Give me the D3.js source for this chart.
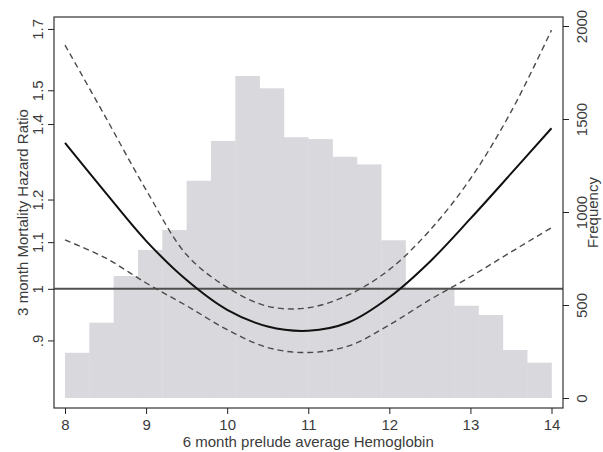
<!DOCTYPE html>
<html>
<head>
<meta charset="utf-8">
<script src="https://cdn.jsdelivr.net/npm/d3@7"></script>
<style>
  html, body { margin: 0; padding: 0; background: #fff; }
  svg { display: block; font-family: "Liberation Sans", Arial, sans-serif; }
  .axis text { fill: #3c3c3c; font-size: 15px; }
  .axis path, .axis line { stroke: #222; }
</style>
</head>
<body>
<svg width="603" height="452"></svg>
<script>
// Histogram of hemoglobin (bin start, width 0.3) and counts
const binStarts = [8.0, 8.3, 8.6, 8.9, 9.2, 9.5, 9.8, 10.1, 10.4, 10.7,
  11.0, 11.3, 11.6, 11.9, 12.2, 12.5, 12.8, 13.1, 13.4, 13.7];
const binWidth = 0.3;
const binCounts = [243, 405, 656, 796, 903, 1168, 1382, 1731, 1665, 1402,
  1392, 1297, 1256, 848, 593, 593, 496, 446, 258, 190];

// Hazard ratio curve and confidence band
const hbGrid = [8.0, 8.5, 9.0, 9.5, 10.0, 10.5, 11.0, 11.5, 12.0, 12.5, 13.0, 13.5, 14.0];
const hrEstimate = [1.347, 1.217, 1.103, 1.018, 0.958, 0.926, 0.918, 0.934, 0.983, 1.057, 1.154, 1.265, 1.388];
const hrUpper = [1.645, 1.42, 1.224, 1.072, 1.003, 0.965, 0.962, 0.988, 1.04, 1.127, 1.252, 1.435, 1.696];
const hrLower = [1.105, 1.065, 1.012, 0.966, 0.92, 0.887, 0.878, 0.89, 0.929, 0.978, 1.025, 1.078, 1.133];

// Tick values
const xTicks = [8, 9, 10, 11, 12, 13, 14];
const hrTicks = [0.9, 1, 1.1, 1.2, 1.4, 1.5, 1.7];
const hrTickLabels = ['.9', '1', '1.1', '1.2', '1.4', '1.5', '1.7'];
const freqTicks = [0, 500, 1000, 1500, 2000];

const svg = d3.select('svg');
const frame = { left: 54, right: 563, top: 17, bottom: 408 };

const xScale = d3.scaleLinear().domain([8, 14]).range([65, 551.5]);
const yHr = d3.scaleLog().domain([0.784, 1.742]).range([frame.bottom, frame.top]);
const yFreq = d3.scaleLinear().domain([0, 2000]).range([398, 26]);

// Histogram bars
svg.append('g')
  .selectAll('rect')
  .data(binStarts)
  .enter()
  .append('rect')
  .attr('x', (d) => xScale(d))
  .attr('width', (d) => xScale(d + binWidth) - xScale(d) + 0.3)
  .attr('y', (d, i) => yFreq(binCounts[i]))
  .attr('height', (d, i) => yFreq(0) - yFreq(binCounts[i]))
  .attr('fill', '#d9d8dc');

// Reference line at HR = 1
svg.append('line')
  .attr('x1', frame.left)
  .attr('x2', frame.right)
  .attr('y1', yHr(1))
  .attr('y2', yHr(1))
  .attr('stroke', '#505050')
  .attr('stroke-width', 2);

// Curves
const line = (vals) => d3.line()
  .x((d) => xScale(d))
  .y((d, i) => yHr(vals[i]))
  .curve(d3.curveCatmullRom.alpha(0.5))(hbGrid);

svg.append('path')
  .attr('d', line(hrUpper))
  .attr('fill', 'none')
  .attr('stroke', '#4a4a4a')
  .attr('stroke-width', 1.4)
  .attr('stroke-dasharray', '6,4');

svg.append('path')
  .attr('d', line(hrLower))
  .attr('fill', 'none')
  .attr('stroke', '#4a4a4a')
  .attr('stroke-width', 1.4)
  .attr('stroke-dasharray', '6,4');

svg.append('path')
  .attr('d', line(hrEstimate))
  .attr('fill', 'none')
  .attr('stroke', '#111')
  .attr('stroke-width', 2);

// Plot frame
svg.append('rect')
  .attr('x', frame.left)
  .attr('y', frame.top)
  .attr('width', frame.right - frame.left)
  .attr('height', frame.bottom - frame.top)
  .attr('fill', 'none')
  .attr('stroke', '#333')
  .attr('stroke-width', 1.2);

// Axes
const xAxis = svg.append('g')
  .attr('class', 'axis')
  .attr('transform', `translate(0, ${frame.bottom})`)
  .call(d3.axisBottom(xScale).tickValues(xTicks).tickFormat(d3.format('d'))
    .tickSize(6).tickSizeOuter(0));
xAxis.select('.domain').remove();
xAxis.selectAll('text').attr('y', 11).attr('dy', '0.71em');

const leftAxis = svg.append('g')
  .attr('class', 'axis')
  .attr('transform', `translate(${frame.left}, 0)`)
  .call(d3.axisLeft(yHr).tickValues(hrTicks)
    .tickFormat((d, i) => hrTickLabels[i]).tickSize(6).tickSizeOuter(0));
leftAxis.select('.domain').remove();
leftAxis.selectAll('text')
  .attr('transform', 'rotate(-90)')
  .attr('x', 0)
  .attr('y', -11)
  .attr('dy', 0)
  .style('text-anchor', 'middle');

const rightAxis = svg.append('g')
  .attr('class', 'axis')
  .attr('transform', `translate(${frame.right}, 0)`)
  .call(d3.axisRight(yFreq).tickValues(freqTicks).tickFormat(d3.format('d'))
    .tickSize(6).tickSizeOuter(0));
rightAxis.select('.domain').remove();
rightAxis.selectAll('text')
  .attr('transform', 'rotate(-90)')
  .attr('x', 0)
  .attr('y', 24)
  .attr('dy', 0)
  .style('text-anchor', 'middle');

// Axis titles
svg.append('text')
  .attr('x', (xScale(8) + xScale(14)) / 2)
  .attr('y', 447)
  .style('text-anchor', 'middle')
  .style('font-size', '15px')
  .attr('fill', '#3c3c3c')
  .text('6 month prelude average Hemoglobin');

svg.append('text')
  .attr('transform', 'rotate(-90)')
  .attr('x', -(frame.top + frame.bottom) / 2)
  .attr('y', 28)
  .style('text-anchor', 'middle')
  .style('font-size', '15px')
  .attr('fill', '#3c3c3c')
  .text('3 month Mortality Hazard Ratio');

svg.append('text')
  .attr('transform', 'rotate(-90)')
  .attr('x', -(frame.top + frame.bottom) / 2)
  .attr('y', 598)
  .style('text-anchor', 'middle')
  .style('font-size', '15px')
  .attr('fill', '#3c3c3c')
  .text('Frequency');
</script>
</body>
</html>
